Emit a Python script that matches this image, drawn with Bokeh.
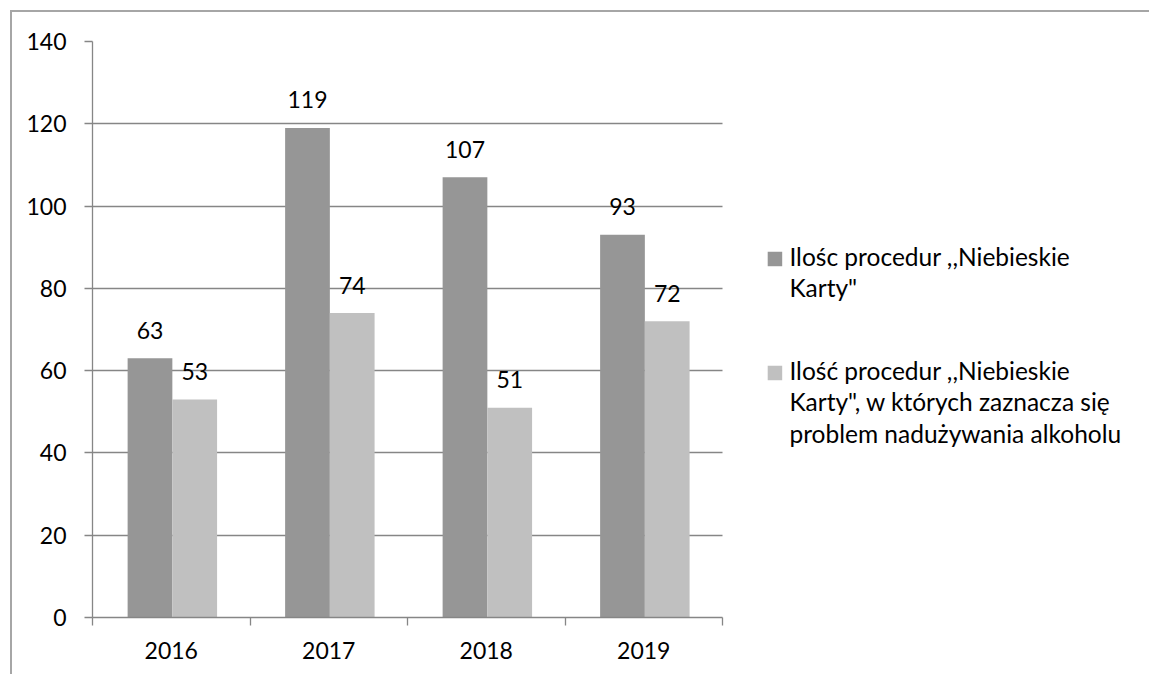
from bokeh.plotting import figure
from bokeh.models import Range1d, FixedTicker
from bokeh.core.properties import value
from bokeh.embed import file_html
from bokeh.resources import INLINE

# ---- data ----
years = ["2016", "2017", "2018", "2019"]
all_cards = [63, 119, 107, 93]
alcohol_cards = [53, 74, 51, 72]
y_ticks = [0, 20, 40, 60, 80, 100, 120, 140]
legend_lines_1 = ['Ilośc procedur ,,Niebieskie', 'Karty"']
legend_lines_2 = ['Ilość procedur ,,Niebieskie', 'Karty", w których zaznacza się',
                  'problem nadużywania alkoholu']

# ---- style ----
FONT = "Lato"
FS = "23px"
LFS = "24.5px"
DARK = "#969696"
LIGHT = "#c0c0c0"
GRID = "#868686"

FRAME_W = 1057
FRAME_H = 576
CAT_PX = 157.5
PX = FRAME_H / 140.0

p = figure(frame_width=FRAME_W, frame_height=FRAME_H,
           x_range=Range1d(0, FRAME_W / CAT_PX), y_range=Range1d(0, 140),
           output_backend="svg", toolbar_location=None,
           min_border_left=80, min_border_top=29, min_border_right=0,
           min_border_bottom=57)
p.styles = {"border-top": "2px solid #a6a6a6", "border-left": "2px solid #a6a6a6",
            "margin-top": "10px", "margin-left": "10px"}
p.outline_line_color = None
p.background_fill_color = "white"
p.border_fill_color = "white"

n = len(years)
x_dark = [i + 0.365 for i in range(n)]
x_light = [i + 0.649 for i in range(n)]
BW = 0.284

p.vbar(x=x_dark, top=all_cards, width=BW, fill_color=DARK, line_color=None)
p.vbar(x=x_light, top=alcohol_cards, width=BW, fill_color=LIGHT, line_color=None)

# data labels
p.text(x=x_dark, y=all_cards, text=[str(v) for v in all_cards],
       text_align="center", text_baseline="middle", y_offset=-28,
       text_font=value(FONT), text_font_size=FS, text_color="black")
p.text(x=x_light, y=alcohol_cards, text=[str(v) for v in alcohol_cards],
       text_align="center", text_baseline="middle", y_offset=-28,
       text_font=value(FONT), text_font_size=FS, text_color="black")

# grid
p.xgrid.visible = False
p.ygrid.grid_line_color = GRID
p.ygrid.grid_line_width = 1.3
p.ygrid.cross_bounds = (0, n)

# y axis
p.yaxis.ticker = FixedTicker(ticks=y_ticks)
p.yaxis.axis_line_color = GRID
p.yaxis.axis_line_width = 1.3
p.yaxis.major_tick_line_color = GRID
p.yaxis.major_tick_line_width = 1.3
p.yaxis.major_tick_out = 8
p.yaxis.major_tick_in = 0
p.yaxis.minor_tick_line_color = None
p.yaxis.major_label_standoff = 18
p.yaxis.major_label_text_font = FONT
p.yaxis.major_label_text_font_size = FS
p.yaxis.major_label_text_color = "black"

# x axis
p.xaxis.ticker = FixedTicker(ticks=[i + 0.5 for i in range(n)],
                             minor_ticks=list(range(n + 1)))
p.xaxis.major_label_overrides = {i + 0.5: years[i] for i in range(n)}
p.xaxis.bounds = (0, n)
p.xaxis.axis_line_color = GRID
p.xaxis.axis_line_width = 1.3
p.xaxis.major_tick_line_color = None
p.xaxis.minor_tick_line_color = GRID
p.xaxis.minor_tick_line_width = 1.3
p.xaxis.minor_tick_out = 8
p.xaxis.minor_tick_in = 0
p.xaxis.major_label_standoff = 16
p.xaxis.major_label_text_font = FONT
p.xaxis.major_label_text_font_size = FS
p.xaxis.major_label_text_color = "black"

# legend (drawn in the empty area right of the categories)
LX_SQ = 4.333
LX_TX = 4.425
LINE = 31.5 / PX
entries = [(legend_lines_1, DARK, 85.56), (legend_lines_2, LIGHT, 57.85)]
sq_x, sq_y, sq_c = [], [], []
tx_x, tx_y, tx_t = [], [], []
for lines, col, base in entries:
    sq_x.append(LX_SQ)
    sq_y.append(base + 6.5 / PX)
    sq_c.append(col)
    for k, line in enumerate(lines):
        tx_x.append(LX_TX)
        tx_y.append(base + 9.0 / PX - k * LINE)
        tx_t.append(line)
p.scatter(x=sq_x, y=sq_y, marker="square", size=14.5, fill_color=sq_c, line_color=None)
p.text(x=tx_x, y=tx_y, text=tx_t, text_align="left", text_baseline="alphabetic",
       text_font=value(FONT), text_font_size=LFS, text_color="black")

open("out.html", "w").write(file_html(p, INLINE))
